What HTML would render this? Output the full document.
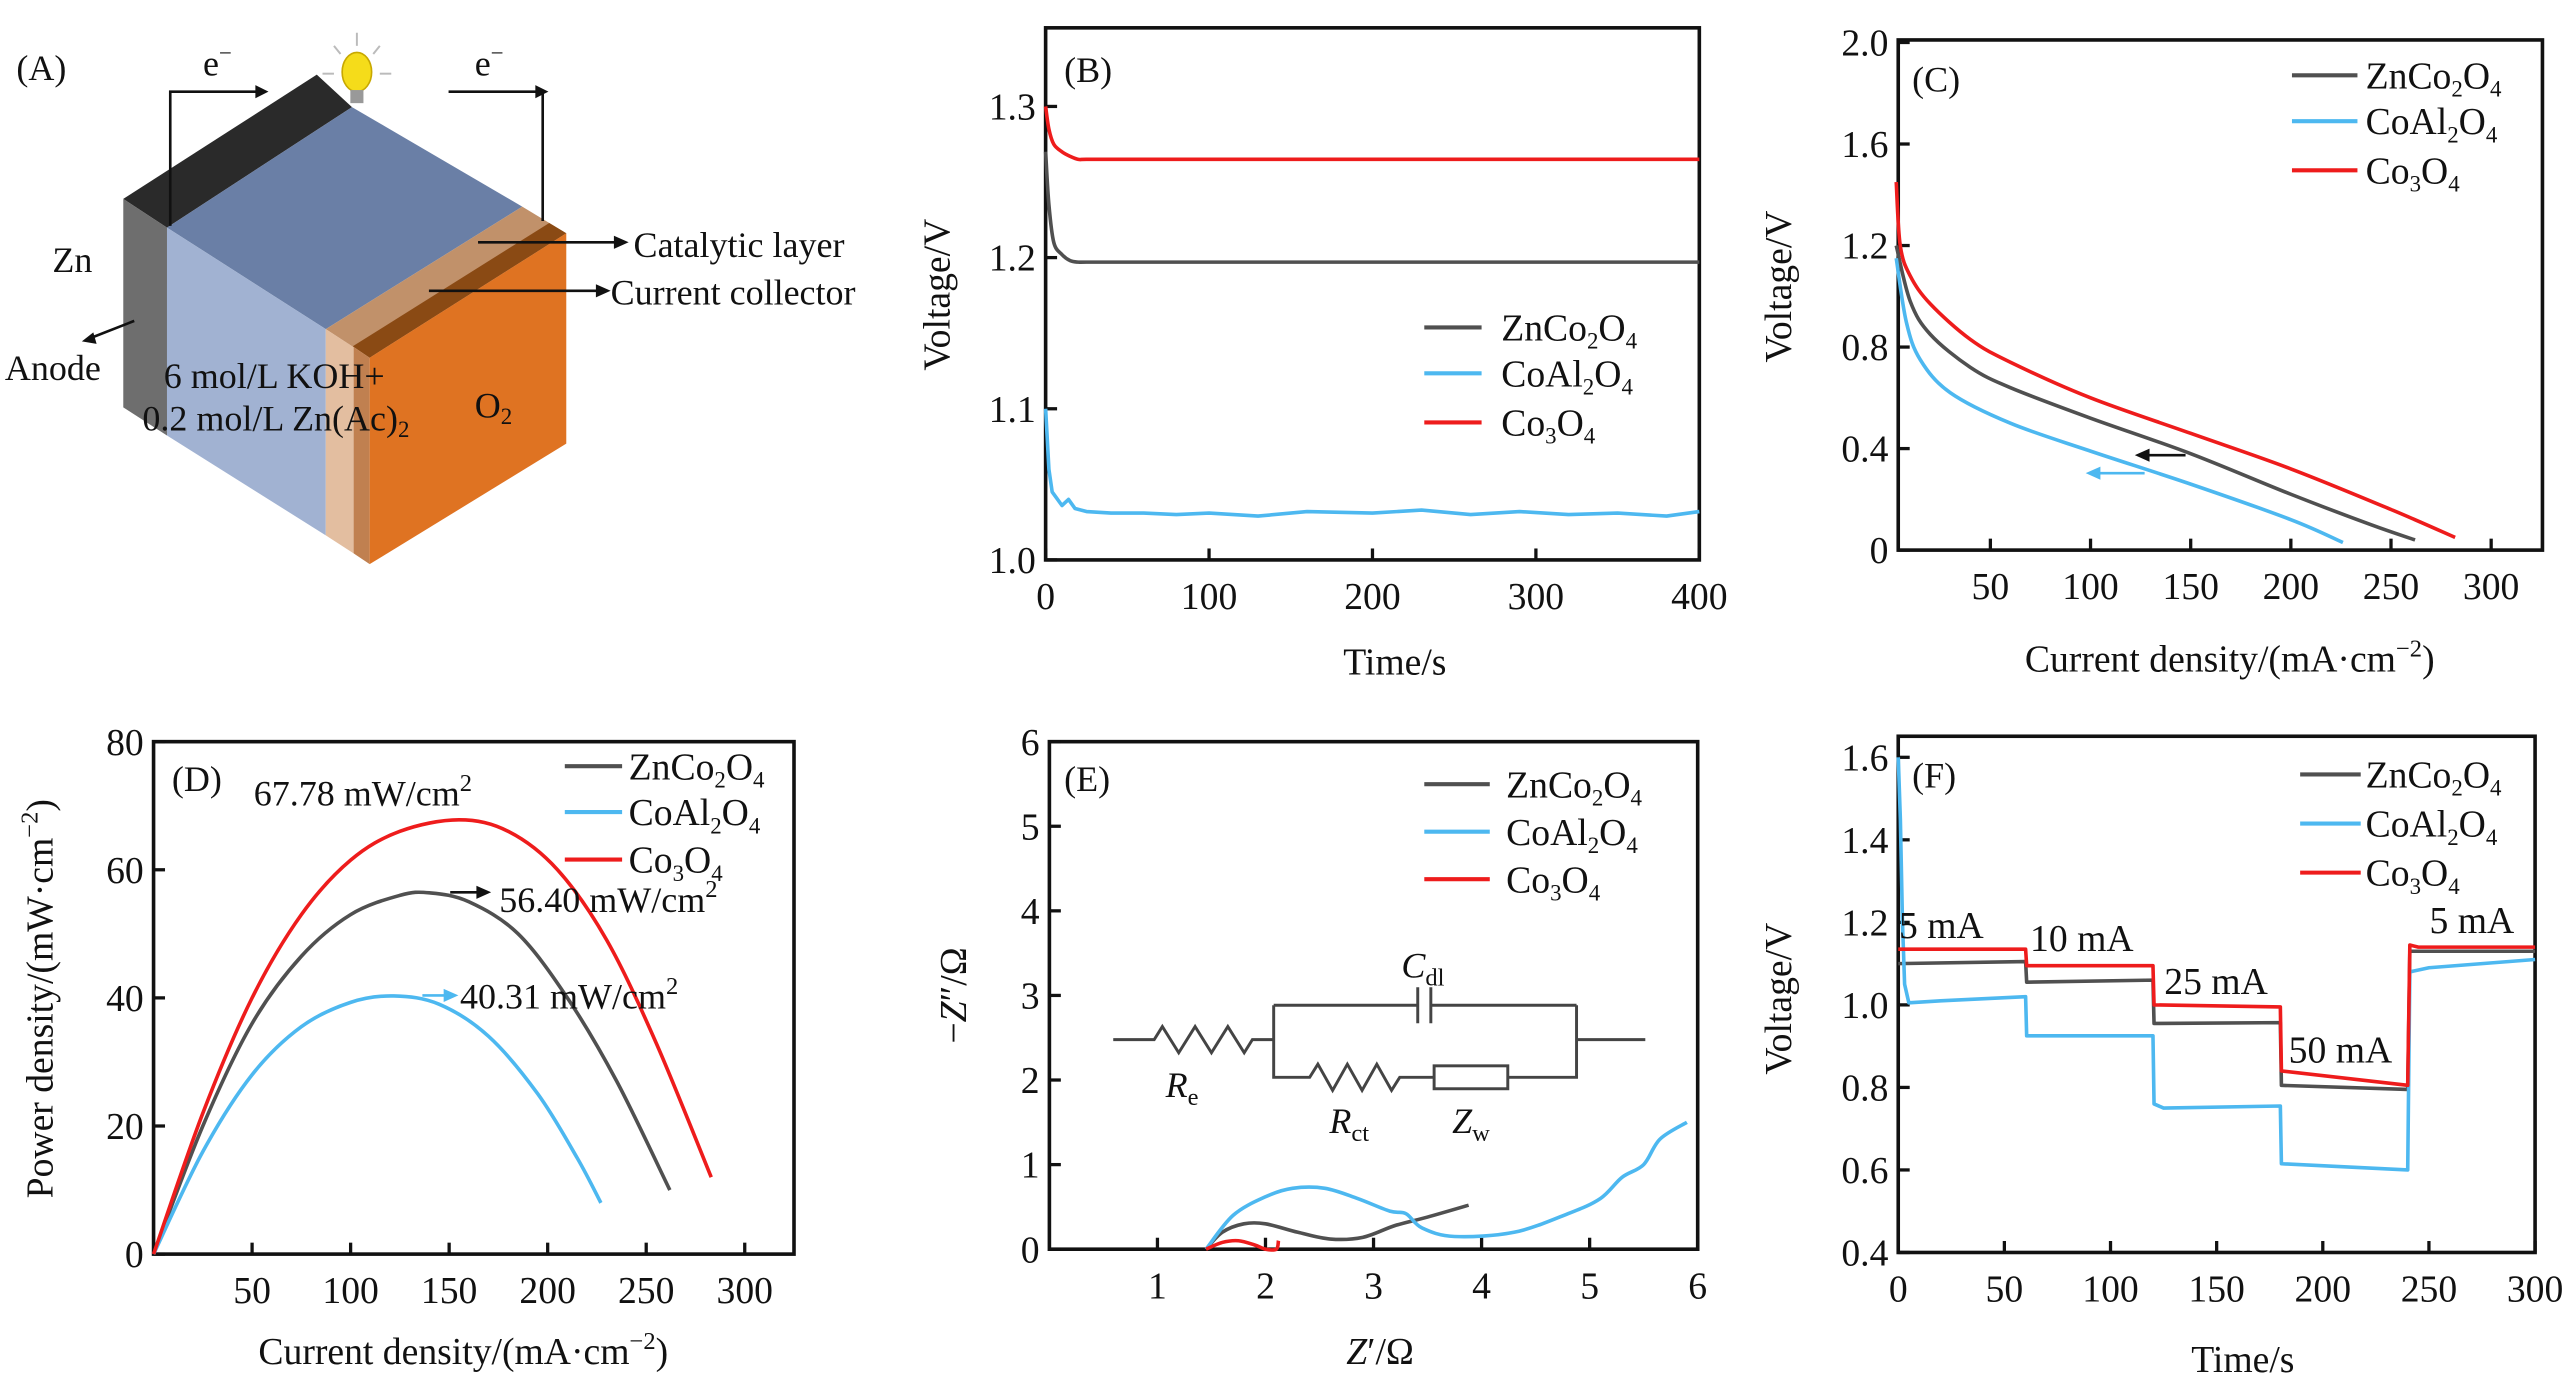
<!DOCTYPE html>
<html><head><meta charset="utf-8"><style>
html,body{margin:0;padding:0;background:#fff;}
svg{display:block;font-family:"Liberation Serif",serif;}
text{fill:#111;}
</style></head><body>
<svg id="fig" width="2567" height="1390" viewBox="0 0 1568 849" preserveAspectRatio="none" xmlns="http://www.w3.org/2000/svg">
<g id="panelA">
  <polygon points="75.3,121.5 193.5,45.6 215,65.4 102,139" fill="#2a2a2a"/>
  <polygon points="75.3,121.5 102,139 102,266 75.3,248.8" fill="#6e6e6e"/>
  <polygon points="102,139 215,65.4 319,126.2 199,201" fill="#6a7fa6"/>
  <polygon points="102,139 199,201 199,327 102,266" fill="#a1b2d2"/>
  <polygon points="199,201 319,126.2 345.9,142.5 225.8,218.5" fill="#c1916a"/>
  <polygon points="215.5,211.5 335.5,136.2 345.9,142.5 225.8,218.5" fill="#8a4a14"/>
  <polygon points="199,201 216,212 216,338 199,327" fill="#e3bea0"/>
  <polygon points="216,212 225.8,218.5 225.8,344.6 216,338" fill="#c08050"/>
  <polygon points="225.8,218.5 345.9,142.5 345.9,271 225.8,344.6" fill="#df7322"/>
  <ellipse cx="218" cy="44" rx="9" ry="12" fill="#f5dc1a" stroke="#c8a800" stroke-width="1"/>
  <rect x="214" y="55" width="8" height="8" fill="#999"/>
  <g stroke="#bbb" stroke-width="1.2"><line x1="218" y1="20" x2="218" y2="28"/><line x1="204" y1="28" x2="208" y2="33"/><line x1="232" y1="28" x2="228" y2="33"/><line x1="197" y1="45" x2="204" y2="45"/><line x1="232" y1="45" x2="239" y2="45"/></g>
  <g stroke="#111" stroke-width="1.6" fill="none">
    <polyline points="104,138 104,56 160,56"/>
    <polyline points="274,56 331.5,56 331.5,135"/>
    <line x1="292" y1="148" x2="378" y2="148"/><line x1="262" y1="177.6" x2="367" y2="177.6"/>
    <line x1="82" y1="196" x2="54" y2="207"/>
  </g>
  <g fill="#111"><polygon points="164,56 156,52 156,60"/><polygon points="335,56 327,52 327,60"/><polygon points="384,148 375,144 375,152"/><polygon points="373,177.6 364,173.6 364,181.6"/><polygon points="50,208.5 57,203 59,210"/></g>
  <g font-size="22">
    <text x="10" y="49">(A)</text>
    <text x="124" y="46">e<tspan font-size="14" dy="-9">−</tspan></text>
    <text x="290" y="46">e<tspan font-size="14" dy="-9">−</tspan></text>
    <text x="387" y="157">Catalytic layer</text>
    <text x="373" y="186">Current collector</text>
    <text x="32" y="166">Zn</text>
    <text x="3" y="232">Anode</text>
    <text x="100" y="237">6 mol/L KOH+</text>
    <text x="87" y="263">0.2 mol/L Zn(Ac)<tspan font-size="14" dy="4">2</tspan></text>
    <text x="290" y="255">O<tspan font-size="14" dy="4">2</tspan></text>
  </g>
</g>
</svg>
<script>
// ---------- Panel B data ----------
const bTime = [0,2,5,10,15,20,25,50,100,200,300,400];
const bZn = [1.27,1.235,1.21,1.202,1.198,1.197,1.197,1.197,1.197,1.197,1.197,1.197];
const bRed = [1.30,1.285,1.275,1.27,1.267,1.265,1.265,1.265,1.265,1.265,1.265,1.265];
const bBlueT = [0,2,4,6,10,14,18,25,40,60,80,100,130,160,200,230,260,290,320,350,380,400];
const bBlue = [1.10,1.06,1.045,1.042,1.036,1.04,1.034,1.032,1.031,1.031,1.030,1.031,1.029,1.032,1.031,1.033,1.030,1.032,1.030,1.031,1.029,1.032];
const bYTicks = [1.0,1.1,1.2,1.3];
const bXTicks = [0,100,200,300,400];
// ---------- Panel C data ----------
const cZnI = [3,10,20,40,60,100,150,200,240,262];
const cZnV = [1.2,0.98,0.85,0.72,0.64,0.52,0.38,0.22,0.1,0.04];
const cCoI = [3,5,10,20,40,60,100,150,200,250,282];
const cCoV = [1.45,1.2,1.08,0.97,0.83,0.74,0.6,0.46,0.32,0.16,0.05];
const cAlI = [3,8,15,30,60,100,150,200,226];
const cAlV = [1.15,0.9,0.75,0.62,0.5,0.39,0.26,0.12,0.03];
const cYTicks = [0,0.4,0.8,1.2,1.6,2.0];
const cXTicks = [50,100,150,200,250,300];
// ---------- Panel D data ----------
const dZnI = [0,25,50,75,100,125,140,160,185,210,235,262];
const dZnP = [0,20,36,46.5,53,56,56.4,55,50,40,27,10];
const dCoI = [0,25,50,75,100,125,155,180,205,230,255,283];
const dCoP = [0,22,40,53,61.5,66,67.8,66,60,49,33,12];
const dAlI = [0,25,50,75,100,122,145,170,195,215,227];
const dAlP = [0,16,28,35.5,39.3,40.3,39,34,25,15,8];
const dYTicks = [0,20,40,60,80];
const dXTicks = [50,100,150,200,250,300];
// ---------- Panel E data ----------
const eZnX = [1.45,1.6,1.8,2.0,2.3,2.6,2.9,3.2,3.5,3.88];
const eZnY = [0,0.2,0.3,0.3,0.2,0.12,0.14,0.28,0.38,0.52];
const eAlX = [1.45,1.7,2.0,2.25,2.55,2.85,3.15,3.3,3.45,3.75,4.3,4.8,5.1,5.3,5.5,5.65,5.9];
const eAlY = [0,0.4,0.62,0.72,0.72,0.6,0.45,0.42,0.25,0.15,0.2,0.42,0.6,0.85,1.0,1.3,1.5];
const eCoX = [1.45,1.6,1.75,1.9,2.0,2.1,2.12];
const eCoY = [0,0.08,0.1,0.05,0,0,0.1];
const eYTicks = [0,1,2,3,4,5,6];
const eXTicks = [1,2,3,4,5,6];
// ---------- Panel F data ----------
const fZnT = [0,60,60.5,120,120.5,180,180.5,240,241,300];
const fZnV = [1.10,1.105,1.055,1.06,0.955,0.957,0.805,0.795,1.13,1.13];
const fCoT = [0,60,60.5,120,120.5,180,180.5,240,241,245,300];
const fCoV = [1.135,1.135,1.095,1.095,1.0,0.995,0.84,0.805,1.145,1.14,1.14];
const fAlT = [0,1,2,3,5,20,60,60.5,120,120.5,125,180,180.5,240,241,250,300];
const fAlV = [1.6,1.45,1.2,1.05,1.005,1.01,1.02,0.925,0.925,0.76,0.75,0.755,0.615,0.60,1.08,1.09,1.11];
const fYTicks = [0.4,0.6,0.8,1.0,1.2,1.4,1.6];
const fXTicks = [0,50,100,150,200,250,300];

const NS = "http://www.w3.org/2000/svg";
const svg = document.getElementById('fig');
const BLACK="#505050", BLUE="#4db8f0", RED="#ee1c1c";
function mk(tag, attrs, parent){const e=document.createElementNS(NS,tag);for(const k in attrs)e.setAttribute(k,attrs[k]);(parent||svg).appendChild(e);return e;}
function txt(x,y,s,parent,anchor,size){const t=mk('text',{x:x,y:y,'font-size':size||22,'text-anchor':anchor||'start'},parent);t.innerHTML=s;return t;}
function axes(px){
  const sx=v=>px.x0+(v-px.xmin)/(px.xmax-px.xmin)*(px.x1-px.x0);
  const sy=v=>px.y1-(v-px.ymin)/(px.ymax-px.ymin)*(px.y1-px.y0);
  return {sx,sy};
}
function panel(name, p, xt, yt, xfmt, yfmt){
  const g=mk('g',{});
  
  
  const {sx,sy}=axes(p);
  const fr=mk('rect',{x:p.x0,y:p.y0,width:p.x1-p.x0,height:p.y1-p.y0,fill:'none',stroke:'#111','stroke-width':2.2},g);
  
  
  xt.forEach(v=>{const x=sx(v);
    const l=mk('line',{x1:x,x2:x,y1:p.y1,y2:p.y1-7,stroke:'#111','stroke-width':2},g);
    
    
    const t=txt(x,p.y1+30,xfmt(v),g,'middle',23);
    
    });
  yt.forEach(v=>{const y=sy(v);
    const l=mk('line',{x1:p.x0,x2:p.x0+7,y1:y,y2:y,stroke:'#111','stroke-width':2},g);
    
    
    const t=txt(p.x0-6,y+8,yfmt(v),g,'end',23);
    
    });
  return {g,sx,sy};
}
function series(P, xs, ys, color, name, smooth){
  const pts=xs.map((x,i)=>[P.sx(x),P.sy(ys[i])]);
  let d='M'+pts[0][0].toFixed(2)+','+pts[0][1].toFixed(2);
  for(let i=0;i<pts.length-1;i++){
    if(smooth){
      const p0=pts[i-1]||pts[i],p1=pts[i],p2=pts[i+1],p3=pts[i+2]||p2;
      const c1=[p1[0]+(p2[0]-p0[0])/6,p1[1]+(p2[1]-p0[1])/6];
      const c2=[p2[0]-(p3[0]-p1[0])/6,p2[1]-(p3[1]-p1[1])/6];
      d+=' C'+c1[0].toFixed(2)+','+c1[1].toFixed(2)+' '+c2[0].toFixed(2)+','+c2[1].toFixed(2)+' '+p2[0].toFixed(2)+','+p2[1].toFixed(2);
    } else d+=' L'+pts[i+1][0].toFixed(2)+','+pts[i+1][1].toFixed(2);
  }
  const l=mk('path',{d:d,fill:'none',stroke:color,'stroke-width':2.2,'stroke-linejoin':'round'},P.g);
  
  
}
function legend(g,x1,x2,tx,ys,size){
  const items=[['ZnCo<tspan font-size="14" dy="5">2</tspan><tspan dy="-5">O</tspan><tspan font-size="14" dy="5">4</tspan>',BLACK],
               ['CoAl<tspan font-size="14" dy="5">2</tspan><tspan dy="-5">O</tspan><tspan font-size="14" dy="5">4</tspan>',BLUE],
               ['Co<tspan font-size="14" dy="5">3</tspan><tspan dy="-5">O</tspan><tspan font-size="14" dy="5">4</tspan>',RED]];
  items.forEach((it,i)=>{
    const l=mk('line',{x1:x1,x2:x2,y1:ys[i],y2:ys[i],stroke:it[1],'stroke-width':2.5},g);
    
    
    const t=txt(tx,ys[i]+8,it[0],g,'start',size||23);
    
    
  });
}
function vtitle(x,cy,s,g){const t=mk('text',{x:0,y:0,'font-size':23,'text-anchor':'middle',transform:`translate(${x},${cy}) rotate(-90)`},g);t.innerHTML=s;return t;}
const f1=v=>v.toFixed(1), f0=v=>String(v);

// Panel B
const B=panel('panel-b-chart',{x0:638.7,x1:1038,y0:17,y1:342,xmin:0,xmax:400,ymin:1.0,ymax:1.352},bXTicks,bYTicks,f0,f1);
series(B,bTime,bZn,BLACK,'series-b-znco2o4',true);
series(B,bBlueT,bBlue,BLUE,'series-b-coal2o4',false);
series(B,bTime,bRed,RED,'series-b-co3o4',true);
legend(B.g,870,905,917,[200,228,258]);
let t=txt(650,50,'(B)',B.g);
t=vtitle(580,180,'Voltage/V',B.g);
t=txt(852,412,'Time/s',B.g,'middle',23);

// Panel C
const C=panel('panel-c-chart',{x0:1159.5,x1:1553,y0:24.4,y1:336,xmin:4,xmax:325.6,ymin:0,ymax:2.01},cXTicks,cYTicks,f0,v=>v===0?'0':v.toFixed(1));
series(C,cZnI,cZnV,BLACK,'series-c-znco2o4',true);
series(C,cAlI,cAlV,BLUE,'series-c-coal2o4',true);
series(C,cCoI,cCoV,RED,'series-c-co3o4',true);
legend(C.g,1400,1440,1445,[46,74,104]);
mk('line',{x1:1335,y1:278,x2:1312,y2:278,stroke:'#111','stroke-width':1.6},C.g);
mk('polygon',{points:'1304,278 1313,274 1313,282',fill:'#111'},C.g);
mk('line',{x1:1310,y1:289,x2:1282,y2:289,stroke:BLUE,'stroke-width':1.6},C.g);
mk('polygon',{points:'1274,289 1283,285 1283,293',fill:BLUE},C.g);
t=txt(1168,56,'(C)',C.g);
t=vtitle(1094,175,'Voltage/V',C.g);
t=txt(1362,410,'Current density/(mA·cm<tspan font-size="15" dy="-9">−2</tspan><tspan dy="9">)</tspan>',C.g,'middle',23);

// Panel D
const D=panel('panel-d-chart',{x0:93.8,x1:485,y0:453,y1:766,xmin:0,xmax:325,ymin:0,ymax:80},dXTicks,dYTicks,f0,f0);
series(D,dZnI,dZnP,BLACK,'series-d-znco2o4',true);
series(D,dAlI,dAlP,BLUE,'series-d-coal2o4',true);
series(D,dCoI,dCoP,RED,'series-d-co3o4',true);
legend(D.g,345,380,384,[468,496,525]);
t=txt(105,483,'(D)',D.g);
t=txt(155,492,'67.78 mW/cm<tspan font-size="15" dy="-9">2</tspan>',D.g);
t=txt(305,557,'56.40 mW/cm<tspan font-size="15" dy="-9">2</tspan>',D.g);
t=txt(281,616,'40.31 mW/cm<tspan font-size="15" dy="-9">2</tspan>',D.g);
mk('line',{x1:275,y1:545,x2:292,y2:545,stroke:'#111','stroke-width':1.6},D.g);
mk('polygon',{points:'300,545 291,541 291,549',fill:'#111'},D.g);
mk('line',{x1:258,y1:608,x2:272,y2:608,stroke:BLUE,'stroke-width':1.6},D.g);
mk('polygon',{points:'280,608 271,604 271,612',fill:BLUE},D.g);
t=vtitle(32,610,'Power density/(mW·cm<tspan font-size="15" dy="-9">−2</tspan><tspan dy="9">)</tspan>',D.g);
t=txt(283,833,'Current density/(mA·cm<tspan font-size="15" dy="-9">−2</tspan><tspan dy="9">)</tspan>',D.g,'middle',23);

// Panel E
const E=panel('panel-e-chart',{x0:641,x1:1037,y0:453,y1:763,xmin:0,xmax:6,ymin:0,ymax:6},eXTicks,eYTicks,f0,f0);
series(E,eZnX,eZnY,BLACK,'series-e-znco2o4',true);
series(E,eAlX,eAlY,BLUE,'series-e-coal2o4',true);
series(E,eCoX,eCoY,RED,'series-e-co3o4',true);
legend(E.g,870,910,920,[479,508,537]);
t=txt(650,483,'(E)',E.g);
const circ=mk('g',{stroke:'#444','stroke-width':1.8,fill:'none'},E.g);


mk('polyline',{points:'680,635 705,635 710,627 720,643 730,627 740,643 750,627 760,643 765,635 778,635'},circ);
mk('polyline',{points:'778,614 866,614'},circ);
mk('polyline',{points:'874,614 963,614'},circ);
mk('line',{x1:866,y1:603,x2:866,y2:625},circ);
mk('line',{x1:874,y1:603,x2:874,y2:625},circ);
mk('polyline',{points:'778,614 778,658 800,658 805,650 814,666 823,650 832,666 841,650 850,666 855,658 876,658'},circ);
mk('rect',{x:876,y:651,width:45,height:14},circ);
mk('polyline',{points:'921,658 963,658 963,614'},circ);
mk('line',{x1:963,y1:635,x2:1005,y2:635},circ);
t=txt(856,597,'<tspan font-style="italic">C</tspan><tspan font-size="15" dy="5">dl</tspan>',E.g);
t=txt(712,670,'<tspan font-style="italic">R</tspan><tspan font-size="15" dy="5">e</tspan>',E.g);
t=txt(812,692,'<tspan font-style="italic">R</tspan><tspan font-size="15" dy="5">ct</tspan>',E.g);
t=txt(887,692,'<tspan font-style="italic">Z</tspan><tspan font-size="15" dy="5">w</tspan>',E.g);
t=vtitle(590,608,'−<tspan font-style="italic">Z</tspan>″/Ω',E.g);
t=txt(843,833,'<tspan font-style="italic">Z</tspan>′/Ω',E.g,'middle',23);

// Panel F
const F=panel('panel-f-chart',{x0:1159.5,x1:1548.5,y0:449.7,y1:765,xmin:0,xmax:300,ymin:0.4,ymax:1.651},fXTicks,fYTicks,f0,f1);
series(F,fZnT,fZnV,BLACK,'series-f-znco2o4',false);
series(F,fAlT,fAlV,BLUE,'series-f-coal2o4',false);
series(F,fCoT,fCoV,RED,'series-f-co3o4',false);
legend(F.g,1405,1442,1445,[473,503,533]);
t=txt(1168,481,'(F)',F.g);
[['5 mA',1160,573],['10 mA',1240,581],['25 mA',1322,607],['50 mA',1398,649],['5 mA',1484,570]].forEach(a=>{
  const e=txt(a[1],a[2],a[0],F.g,'start',23);
  
  
});
t=vtitle(1094,610,'Voltage/V',F.g);
t=txt(1370,838,'Time/s',F.g,'middle',23);
</script>
</body></html>
